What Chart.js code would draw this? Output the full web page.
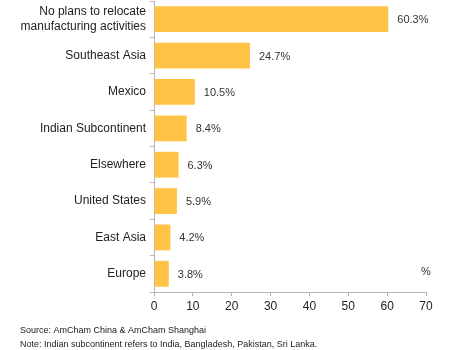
<!DOCTYPE html>
<html>
<head>
<meta charset="utf-8">
<script src="https://cdn.jsdelivr.net/npm/chart.js@4/dist/chart.umd.min.js"></script>
<style>
  html, body { margin: 0; padding: 0; background: #fff; }
  #wrap { width: 450px; height: 350px; position: relative; }
</style>
</head>
<body>
<div id="wrap"><canvas id="chart"></canvas></div>
<script>
// Datos del gráfico
const categories = [
  ['No plans to relocate', 'manufacturing activities'],
  'Southeast Asia',
  'Mexico',
  'Indian Subcontinent',
  'Elsewhere',
  'United States',
  'East Asia',
  'Europe'
];
const shares = [60.3, 24.7, 10.5, 8.4, 6.3, 5.9, 4.2, 3.8];
const xTicks = [0, 10, 20, 30, 40, 50, 60, 70];
const notes = [
  'Source: AmCham China & AmCham Shanghai',
  'Note: Indian subcontinent refers to India, Bangladesh, Pakistan, Sri Lanka.'
];

const FONT = '"Liberation Sans", Arial, sans-serif';

// Etiquetas de valor al final de cada barra, "%" y notas al pie
const extrasPlugin = {
  id: 'extras',
  afterDatasetsDraw(chart) {
    const ctx = chart.ctx;
    const meta = chart.getDatasetMeta(0);
    ctx.save();
    ctx.font = '11px ' + FONT;
    ctx.fillStyle = '#333';
    ctx.textBaseline = 'middle';
    ctx.textAlign = 'left';
    meta.data.forEach((bar, i) => {
      ctx.fillText(shares[i].toFixed(1) + '%', bar.x + 9, bar.y + 1);
    });
    // símbolo de unidad a la derecha
    const xs = chart.scales.x;
    const ys = chart.scales.y;
    ctx.textAlign = 'center';
    ctx.fillText('%', xs.getPixelForValue(70), ys.getPixelForValue(7) - 2);
    // notas
    ctx.font = '9px ' + FONT;
    ctx.fillStyle = '#222';
    ctx.textAlign = 'left';
    ctx.fillText(notes[0], 20, 331);
    ctx.fillText(notes[1], 20, 345);
    ctx.restore();
  }
};

new Chart(document.getElementById('chart'), {
  type: 'bar',
  data: {
    labels: categories,
    datasets: [{
      data: shares,
      backgroundColor: '#FFC445',
      borderWidth: 0,
      categoryPercentage: 0.71,
      barPercentage: 1
    }]
  },
  options: {
    indexAxis: 'y',
    responsive: true,
    maintainAspectRatio: false,
    animation: false,
    layout: { padding: { top: 1, right: 24, left: 0, bottom: 0 } },
    plugins: {
      legend: { display: false },
      tooltip: { enabled: false }
    },
    scales: {
      x: {
        min: 0,
        max: 70,
        afterBuildTicks: (axis) => { axis.ticks = xTicks.map(v => ({ value: v })); },
        grid: { drawOnChartArea: false, tickLength: 4, color: '#b5b5b5' },
        border: { color: '#b5b5b5' },
        ticks: { color: '#222', font: { family: FONT, size: 12 }, padding: 3, maxRotation: 0 },
        afterFit: (axis) => { axis.height = 58; axis.paddingLeft = 0; axis.paddingRight = 0; }
      },
      y: {
        grid: { drawOnChartArea: false, offset: true, tickLength: 4, color: '#b5b5b5' },
        border: { color: '#b5b5b5' },
        ticks: { color: '#222', font: { family: FONT, size: 12 }, padding: 4 },
        afterFit: (axis) => { axis.width = 154; axis.paddingTop = 0; axis.paddingBottom = 0; }
      }
    }
  },
  plugins: [extrasPlugin]
});
</script>
</body>
</html>
